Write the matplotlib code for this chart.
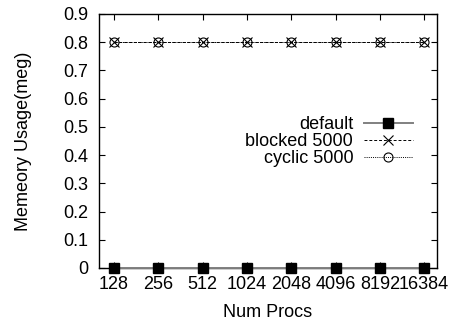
import matplotlib
matplotlib.use("Agg")
import matplotlib.pyplot as plt

procs = ["128", "256", "512", "1024", "2048", "4096", "8192", "16384"]
default_vals = [0, 0, 0, 0, 0, 0, 0, 0]
blocked_vals = [0.8, 0.8, 0.8, 0.8, 0.8, 0.8, 0.8, 0.8]
cyclic_vals = [0.8, 0.8, 0.8, 0.8, 0.8, 0.8, 0.8, 0.8]
yticks = [0, 0.1, 0.2, 0.3, 0.4, 0.5, 0.6, 0.7, 0.8, 0.9]

plt.rcParams['font.family'] = ['Liberation Sans', 'DejaVu Sans']
plt.rcParams['font.size'] = 13

fig = plt.figure(figsize=(4.55, 3.27), dpi=100)
ax = fig.add_axes([99/455, 1-268/327, (437-99)/455, (268-14)/327])
x = list(range(len(procs)))

ax.plot(x, default_vals, color='#808080', lw=1.4, marker='s', ms=7,
        mfc='black', mec='black', label='default', clip_on=False, zorder=3)
ax.plot(x, blocked_vals, color='black', lw=0.7, ls=(0, (3, 2)), marker='x', ms=6.5,
        mew=0.8, label='blocked 5000', zorder=3)
ax.plot(x, cyclic_vals, color='black', lw=0.7, ls=(0, (1, 1.2)), marker='o', ms=6.5,
        mfc='none', mew=0.8, label='cyclic 5000', zorder=3)

ax.set_xlim(-0.34, 7.29)
ax.set_ylim(0, 0.9)
ax.set_xticks(x)
ax.set_xticklabels(procs)
ax.set_yticks(yticks)
ax.set_yticklabels([f"{v:g}" for v in yticks])
ax.tick_params(direction='in', top=True, right=True, length=4, width=0.8)
ax.tick_params(axis='y', pad=8)
ax.tick_params(axis='x', pad=6)
for s in ax.spines.values():
    s.set_linewidth(1.0)

ax.set_xlabel("Num Procs", labelpad=8)
ax.set_ylabel("Memeory Usage(meg)", labelpad=22)

leg = ax.legend(loc='upper right', bbox_to_anchor=(0.955, 0.635), frameon=False,
                markerfirst=False, handlelength=2.7, handletextpad=0.6,
                labelspacing=0.0, borderpad=0, handleheight=0.5)
fig.savefig("out.png", dpi=100)
